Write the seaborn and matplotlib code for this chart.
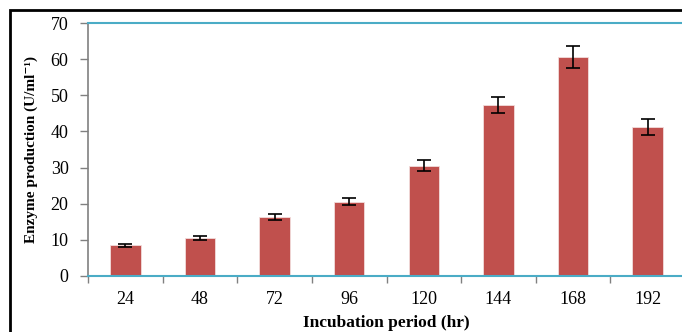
import numpy as np
import pandas as pd
import seaborn as sns
import matplotlib.pyplot as plt
from matplotlib.patches import Rectangle

hours = ["24", "48", "72", "96", "120", "144", "168", "192"]
enzyme = [8.5, 10.6, 16.3, 20.6, 30.5, 47.3, 60.5, 41.2]
sd = [0.4, 0.6, 0.9, 0.9, 1.5, 2.3, 3.0, 2.2]

df = pd.DataFrame({"hours": hours, "enzyme": enzyme})

sns.set_style("white")
plt.rcParams["font.family"] = ["Liberation Serif", "DejaVu Serif"]
plt.rcParams["text.color"] = "black"
plt.rcParams["xtick.color"] = "black"
plt.rcParams["ytick.color"] = "black"
plt.rcParams["axes.labelcolor"] = "black"

fig = plt.figure(figsize=(6.82, 3.32), dpi=100)
ax = fig.add_axes([88 / 682, 56 / 332, 597 / 682, 253 / 332])

sns.barplot(data=df, x="hours", y="enzyme", color="#C0504D", saturation=1,
            width=0.41, errorbar=None, edgecolor="#F2DCDB", linewidth=0.6, ax=ax)

xs = [p.get_x() + p.get_width() / 2 for p in ax.patches]
ax.errorbar(xs, enzyme, yerr=sd, fmt="none", ecolor="black",
            elinewidth=1.2, capsize=5, capthick=1.2)

ax.set_ylim(0, 70)
ax.set_yticks(range(0, 71, 10))
ax.set_xlim(-0.5, 7.5)

# ticks between categories, labels at centers
ax.set_xticks(np.arange(-0.5, 8, 1), minor=False)
ax.set_xticklabels([])
ax.set_xticks(range(8), minor=True)
ax.set_xticklabels(hours, minor=True)
ax.tick_params(axis="x", which="major", direction="out", length=5,
               color="#808080", width=1, bottom=True)
ax.tick_params(axis="x", which="minor", length=0, pad=11, labelsize=13)
ax.tick_params(axis="y", direction="out", length=6, color="#808080",
               width=1, left=True, pad=8, labelsize=13)

for s in ["top", "bottom"]:
    ax.spines[s].set_color("#4BACC6")
    ax.spines[s].set_linewidth(1.5)
ax.spines["left"].set_color("#808080")
ax.spines["left"].set_linewidth(1.2)
ax.spines["right"].set_visible(False)

ax.set_xlabel("Incubation period (hr)", fontsize=12.5, fontweight="bold", labelpad=5)
ax.set_ylabel("Enzyme production (U/ml⁻¹)", fontsize=11, fontweight="bold", labelpad=9)

fig.patches.append(Rectangle((10 / 682, -0.2), 1.2, 1 - 10 / 332 + 0.2,
                             transform=fig.transFigure, fill=False,
                             edgecolor="black", linewidth=2))

fig.savefig("out.png", dpi=100)
